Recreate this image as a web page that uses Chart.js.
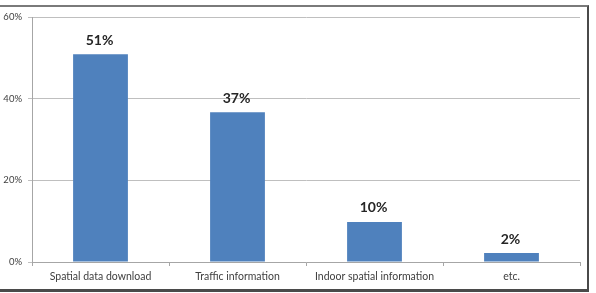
<!DOCTYPE html>
<html>
<head>
<meta charset="utf-8">
<script src="https://cdn.jsdelivr.net/npm/chart.js@4"></script>
<style>
  html, body { margin: 0; padding: 0; background: #fff; }
  #wrap { position: relative; width: 596px; height: 293px; }
  #frame {
    position: absolute; left: 0; top: 5px; width: 587px; height: 282px;
    border-top: 2px solid #7a7a7a; border-right: 2px solid #4a4a4a;
    border-bottom: 3px solid #4a4a4a; border-left: none;
  }
  canvas { position: absolute; left: 0; top: 0; }
</style>
</head>
<body>
<div id="wrap">
  <div id="frame"></div>
  <canvas id="chart" width="596" height="293"></canvas>
</div>
<script>
// ====== DATA ======
const categories = ["Spatial data download", "Traffic information", "Indoor spatial information", "etc."];
const shares = [50.9, 36.7, 9.8, 2.2];
const shareLabels = ["51%", "37%", "10%", "2%"];
const yTicks = [0, 20, 40, 60];

// ====== LABEL DI ATAS BAR ======
const barLabels = {
  id: "barLabels",
  afterDatasetsDraw(chart) {
    const ctx = chart.ctx;
    const meta = chart.getDatasetMeta(0);
    ctx.save();
    ctx.font = "bold 14px Lato";
    ctx.fillStyle = "#262626";
    ctx.textAlign = "center";
    ctx.textBaseline = "bottom";
    meta.data.forEach((bar, i) => {
      ctx.fillText(shareLabels[i], bar.x - 1, bar.y - 7);
    });
    ctx.restore();
  },
};

// ====== GRAFIK ======
new Chart(document.getElementById("chart").getContext("2d"), {
  type: "bar",
  data: {
    labels: categories,
    datasets: [
      {
        data: shares,
        backgroundColor: "#4F81BD",
        borderWidth: 0,
        categoryPercentage: 0.8,
        barPercentage: 0.5,
      },
    ],
  },
  options: {
    responsive: false,
    animation: false,
    layout: { padding: { left: 0, right: 16, top: 17, bottom: 3 } },
    plugins: { legend: { display: false }, tooltip: { enabled: false } },
    scales: {
      x: {
        offset: true,
        grid: { drawOnChartArea: false, offset: true, tickLength: 4, color: "#a6a6a6" },
        border: { color: "#a6a6a6" },
        ticks: { color: "#404040", font: { family: "Lato", size: 10.5 }, padding: 4, maxRotation: 0 },
        afterFit(scale) { scale.height = 28; },
      },
      y: {
        min: 0,
        max: 60,
        afterBuildTicks(scale) { scale.ticks = yTicks.map((v) => ({ value: v })); },
        grid: { color: "#bfbfbf", tickLength: 4 },
        border: { color: "#a6a6a6" },
        ticks: { color: "#404040", font: { family: "Lato", size: 9.5 }, padding: 6, callback: (v) => v + "%" },
        afterFit(scale) { scale.width = 32; },
      },
    },
  },
  plugins: [barLabels],
});
</script>
</body>
</html>
